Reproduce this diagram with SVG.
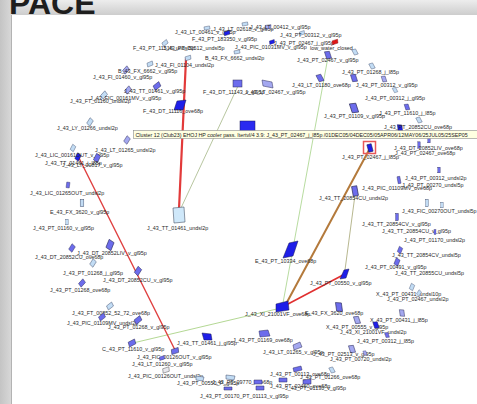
<svg xmlns="http://www.w3.org/2000/svg" xmlns:xlink="http://www.w3.org/1999/xlink" width="477" height="404" viewBox="0 0 477 404">
<style>
.t{font-family:"Liberation Sans",Arial,sans-serif;font-size:5.4px;fill:#2a2a2a}
.tt{font-family:"Liberation Sans",Arial,sans-serif;font-size:5.3px;fill:#222}
.a{fill:#6c6cec;stroke:#2c2c5a;stroke-width:0.5}
.b{fill:#1e1ee8;stroke:#1a1a50;stroke-width:0.5}
.c{fill:#c2dcf4;stroke:#3c4a6a;stroke-width:0.5}
.d{fill:#a4a8f0;stroke:#2c2c5a;stroke-width:0.5}
.w{fill:#e8e8ee;stroke:#555;stroke-width:0.5}
.e{fill:none;stroke-linecap:round}
</style>
<defs>
<linearGradient id="gt" x1="0" y1="0" x2="0" y2="1"><stop offset="0" stop-color="#ededed"/><stop offset="1" stop-color="#cdcdcd"/></linearGradient>
<linearGradient id="gl" x1="0" y1="0" x2="1" y2="0"><stop offset="0" stop-color="#c4c4c4"/><stop offset="1" stop-color="#d9d9d9"/></linearGradient>
<polygon id="q" points="-1.5,-4.5 3,-2.5 1.5,4.5 -3,2.5"/>
<rect id="r" x="-2" y="-3.5" width="4" height="7"/>
</defs>
<!-- frame -->
<rect x="0" y="0" width="477" height="404" fill="#dadada"/>
<rect x="0" y="0" width="477" height="15" fill="url(#gt)"/>
<rect x="0" y="0" width="12" height="404" fill="url(#gl)"/>
<rect x="12" y="15" width="465" height="389" fill="#ffffff"/>
<line x1="11.5" y1="15" x2="11.5" y2="404" stroke="#a9a9a9" stroke-width="0.8"/>
<text x="9" y="13.5" font-family="Liberation Sans,Arial,sans-serif" font-size="32" font-weight="bold" fill="#1e1e1e">PACE</text>

<g id="connectors">
<line class="e" x1="238" y1="86" x2="181" y2="208" stroke="#b8c6a0" stroke-width="1"/>
<line class="e" x1="328" y1="57" x2="283" y2="303" stroke="#b8dca0" stroke-width="1"/>
<line class="e" x1="355" y1="195" x2="345" y2="270" stroke="#b8b890" stroke-width="1"/>
<line class="e" x1="133" y1="343" x2="281" y2="308" stroke="#b4d894" stroke-width="1"/>
<line class="e" x1="186" y1="59" x2="179" y2="209" stroke="#e23a3a" stroke-width="2.2"/>
<line class="e" x1="79" y1="158" x2="175" y2="350" stroke="#e04040" stroke-width="1.4"/>
<line class="e" x1="288" y1="304" x2="343" y2="275" stroke="#e03030" stroke-width="1.6"/>
<line class="e" x1="369" y1="150" x2="286" y2="304" stroke="#b47a3c" stroke-width="2"/>
</g>

<!-- top region -->
<g id="n01"><use href="#q" class="c" transform="translate(165 43) rotate(40) scale(0.8)"/><text class="t" x="133" y="50">F_43_PT_11516_undsl5p</text><text class="t" x="163" y="50">J_43_PT_00512_undsl5p</text></g>
<g id="n02"><use href="#r" class="c" transform="translate(207 28) rotate(80) scale(0.8)"/><text class="t" x="175" y="34">J_43_LT_00461_v_gl95p</text></g>
<g id="n03"><use href="#q" class="b" transform="translate(227 33) rotate(60) scale(0.8)"/><text class="t" x="213" y="31">J_43_LT_02618_v_gl95p</text><text class="t" x="192" y="41">F_43_PT_183350_v_gl95p</text></g>
<g id="n04"><use href="#r" class="c" transform="translate(245 24) rotate(80) scale(0.8)"/></g>
<g id="n05"><use href="#q" class="d" transform="translate(268 27) rotate(70) scale(0.8)"/><text class="t" x="250" y="29">J_43_LT_00412_v_gl95p</text></g>
<g id="n06"><use href="#q" class="c" transform="translate(302 33) rotate(60) scale(0.7)"/><text class="t" x="280" y="37">J_43_PT_00312_v_gl95p</text></g>
<g id="n07"><use href="#q" class="b" transform="translate(272 42) rotate(60) scale(0.7)"/><text class="t" x="274" y="45">J_43_PT_02467_j_gl95p</text></g>
<g id="n08"><use href="#q" transform="translate(335 42) rotate(60) scale(0.8)" fill="#e01818" stroke="#801010" stroke-width="0.5"/><text class="t" x="310" y="50">low_water_closed</text></g>
<g id="n09"><use href="#r" class="c" transform="translate(237 52) rotate(80) scale(0.8)"/><text class="t" x="235" y="49">J_43_PIC_01031MV_v_gl95p</text><text class="t" x="205" y="60">B_43_FX_6662_undsl2p</text></g>
<g id="n10"><use href="#q" class="c" transform="translate(188 58) rotate(60) scale(0.8)"/><text class="t" x="155" y="67">J_43_FI_01104_undsl2p</text></g>
<g id="n11"><use href="#q" class="c" transform="translate(150 64) rotate(55) scale(0.8)"/></g>
<g id="n12"><use href="#q" class="d" transform="translate(126 70) rotate(30) scale(0.9)"/><text class="t" x="118" y="73">B_43_FX_6662_v_gl95p</text><text class="t" x="93" y="79">J_43_FI_01460_v_gl95p</text></g>
<g id="n13"><use href="#q" class="a" transform="translate(328 55) rotate(-30) scale(1)"/><text class="t" x="297" y="62">J_43_PT_02467_v_gl95p</text></g>
<g id="n14"><use href="#q" class="c" transform="translate(355 52) rotate(-40) scale(0.8)"/></g>
<g id="n15"><use href="#q" class="c" transform="translate(372 66) rotate(-40) scale(0.8)"/><text class="t" x="342" y="74">J_43_PT_01268_j_l85p</text></g>
<g id="n16"><use href="#q" class="d" transform="translate(384 79) rotate(-30) scale(0.8)"/></g>
<g id="n17"><use href="#q" class="a" transform="translate(354 78) rotate(-30) scale(1)"/><text class="t" x="356" y="87">J_43_PT_00312_v_gl95p</text></g>
<g id="n18"><use href="#q" class="a" transform="translate(320 78) rotate(-40) scale(1)"/><text class="t" x="292" y="87">J_43_LT_01180_ove68p</text></g>
<g id="n19"><use href="#q" class="c" transform="translate(395 90) rotate(-40) scale(0.7)"/><text class="t" x="365" y="100">J_43_PT_00312_j_gl95p</text></g>
<g id="n20"><use href="#q" class="a" transform="translate(354 108) rotate(-30) scale(1.3)"/><text class="t" x="324" y="118">J_43_PT_01109_v_gl95p</text></g>
<g id="n21"><use href="#q" class="a" transform="translate(407 107) rotate(-30) scale(0.8)"/><text class="t" x="379" y="115">J_43_PT_11610_j_l85p</text></g>
<g id="n22"><use href="#q" class="c" transform="translate(419 120) rotate(-40) scale(0.8)"/></g>
<g id="n23"><use href="#q" class="b" transform="translate(400 128) rotate(-20) scale(0.9)"/><text class="t" x="384" y="129">J_43_PT_20852CU_ove68p</text></g>

<!-- upper left -->
<g id="n24"><use href="#q" class="a" transform="translate(157 86) rotate(40) scale(1)"/><text class="t" x="203" y="94">F_43_DT_11143_v_gl95p</text></g>
<g id="n25"><use href="#q" class="d" transform="translate(128 90) rotate(30) scale(0.9)"/><text class="t" x="124" y="93">J_43_TT_01461_v_gl95p</text></g>
<g id="n26"><use href="#q" class="c" transform="translate(104 95) rotate(30) scale(0.9)"/><text class="t" x="90" y="100">J_43_FIC_00161MV_v_gl95p</text><text class="t" x="70" y="103">J_43_FT_01160_undsl2p</text></g>
<g id="n27"><polygon points="177,101 186,100 183,110 174,110" class="b"/><text class="t" x="143" y="113">F_43_DT_11116_ove68p</text></g>
<g id="n28"><use href="#q" class="c" transform="translate(90 122) rotate(20) scale(0.9)"/><text class="t" x="57" y="130">J_43_LY_01266_undsl2p</text></g>
<g id="n29"><rect x="233" y="80" width="9" height="7" class="a"/></g>
<g id="n30"><polygon points="262,80 272,82 273,88 263,86" class="d"/><text class="t" x="245" y="94">J_43_LT_02467_v_gl95p</text></g>
<g id="n31"><rect x="240" y="121" width="15" height="13" fill="#2a2af0" stroke="#1a1a60" stroke-width="0.5"/></g>

<!-- left middle -->
<g id="n32"><use href="#q" class="d" transform="translate(127 140) rotate(20) scale(0.9)"/></g>
<g id="n33"><use href="#q" class="c" transform="translate(73 148) rotate(15) scale(0.8)"/><text class="t" x="95" y="152">J_43_LT_01265_undsl2p</text></g>
<g id="n34"><use href="#q" class="b" transform="translate(78 157) rotate(15) scale(0.9)"/><text class="t" x="35" y="157">J_43_LIC_00161OUT_v_gl95p</text></g>
<g id="n35"><use href="#q" class="a" transform="translate(97 158) rotate(15) scale(1)"/><text class="t" x="45" y="165">J_43_TT_01461_j_l85p</text><text class="t" x="62" y="167">J_43_LT_00817_v_gl95p</text></g>
<g id="n36"><use href="#r" class="a" transform="translate(68 185) rotate(8) scale(0.8)"/><text class="t" x="30" y="195">J_43_LIC_01265OUT_undsl2p</text></g>
<g id="n37"><use href="#r" class="c" transform="translate(82 203) scale(0.9 1)"/><text class="t" x="50" y="214">E_43_FX_3620_v_gl95p</text></g>
<g id="n38"><use href="#r" class="c" transform="translate(67 222) scale(0.6 0.8)"/><text class="t" x="33" y="230">J_43_PT_01160_v_gl95p</text></g>
<g id="n39"><polygon points="173,208 184,207 185,222 174,223" fill="#cfe8fa" stroke="#4a5568" stroke-width="0.6"/><text class="t" x="147" y="230">J_43_TT_01461_undsl2p</text></g>
<g id="n40"><use href="#q" class="a" transform="translate(110 245) rotate(10) scale(1.2)"/><text class="t" x="77" y="255">J_43_DT_20852LIV_v_gl95p</text></g>
<g id="n41"><use href="#q" class="a" transform="translate(72 248) rotate(20) scale(0.9)"/><text class="t" x="35" y="259">J_43_DT_20852CU_ove68p</text></g>
<g id="n42"><use href="#q" class="c" transform="translate(93 263) rotate(20) scale(0.9)"/></g>
<g id="n43"><use href="#q" class="a" transform="translate(138 271) rotate(20) scale(1)"/><text class="t" x="63" y="275">J_43_PT_01268_j_gl95p</text><text class="t" x="103" y="282">J_43_DT_20852CU_v_gl95p</text></g>
<g id="n44"><use href="#q" class="a" transform="translate(82 283) rotate(30) scale(0.9)"/><text class="t" x="50" y="292">J_43_PT_01268_ove68p</text></g>
<g id="n45"><use href="#q" class="c" transform="translate(110 306) rotate(40) scale(0.9)"/><text class="t" x="72" y="315">J_43_FT_00852_52_72_ove68p</text></g>
<g id="n46"><use href="#q" class="a" transform="translate(102 317) rotate(40) scale(0.9)"/><text class="t" x="67" y="325">J_43_PIC_01109MV_undsl2p</text></g>
<g id="n47"><use href="#q" class="a" transform="translate(138 320) rotate(40) scale(1)"/><text class="t" x="108" y="329">J_43_PT_01268_v_gl95p</text></g>
<g id="n48"><use href="#q" class="a" transform="translate(132 343) rotate(50) scale(1)"/><text class="t" x="102" y="351">C_43_PT_11610_v_gl95p</text></g>
<g id="n49"><use href="#q" class="a" transform="translate(175 351) rotate(60) scale(1)"/><text class="t" x="137" y="359">J_43_FIC_00126OUT_v_gl95p</text></g>
<g id="n50"><use href="#q" class="a" transform="translate(162 358) rotate(60) scale(0.7)"/><text class="t" x="132" y="366">J_43_LT_01260_v_gl95p</text></g>
<g id="n51"><use href="#q" class="w" transform="translate(166 370) rotate(60) scale(0.9)"/><text class="t" x="128" y="378">J_43_PIC_00126OUT_undsl2p</text></g>

<!-- center -->
<g id="n52"><polygon points="289,243 298,241 293,256 283,258" class="b"/><text class="t" x="255" y="263">E_43_PT_10334_ove68p</text></g>
<g id="n53"><polygon points="276,304 288,301 289,310 276,312" class="b"/><text class="t" x="245" y="316">J_43_XI_21001VF_ove68p</text></g>
<g id="n54"><polygon points="202,333 211,334 212,340 204,340" class="b"/><text class="t" x="177" y="345">J_43_TT_01461_j_gl95p</text></g>
<g id="n55"><polygon points="259,331 268,330 270,336 260,337" class="a"/><text class="t" x="233" y="342">J_43_PT_01169_ove68p</text></g>
<g id="n56"><polygon points="293,345 300,342 302,347 294,350" class="d"/><text class="t" x="263" y="354">J_43_LT_01265_v_gl95p</text></g>
<g id="n57"><polygon points="196,376 204,377 203,381 196,380" class="c"/><text class="t" x="177" y="385">J_43_PT_00550_P_gl95p</text></g>
<g id="n58"><polygon points="226,375 235,376 234,380 226,379" class="c"/><text class="t" x="212" y="384">J_43_PT_09770_ove68p</text></g>
<g id="n59"><polygon points="224,387 232,387 232,390 224,390" class="a"/><text class="t" x="200" y="398">J_43_PT_00170_PT_01113_v_gl95p</text></g>
<g id="n60"><polygon points="254,380 262,380 262,384 254,384" class="a"/></g>
<g id="n61"><polygon points="256,386 264,386 264,390 256,390" class="a"/></g>
<g id="n62"><polygon points="293,368 301,366 302,370 294,372" class="a"/><text class="t" x="270" y="376">J_43_PT_00113_ove68p</text></g>
<g id="n63"><polygon points="279,378 287,378 287,382 279,382" class="a"/><text class="t" x="270" y="388">J_43_PT_02460_ove68p</text></g>
<g id="n64"><polygon points="303,380 311,379 311,384 303,384" class="a"/><text class="t" x="285" y="390">J_43_PT_01130_v_gl95p</text></g>

<!-- right -->
<g id="n65"><use href="#r" class="b" transform="translate(370 148) rotate(-15) scale(1.1)"/><rect x="363.5" y="141.5" width="12" height="12" fill="none" stroke="#e85858" stroke-width="1.5"/><text class="t" x="342" y="159">J_43_PT_02467_j_l85p</text></g>
<g id="n66"><use href="#r" class="a" transform="translate(419 145) scale(0.6 0.9)"/><text class="t" x="394" y="150">J_43_DT_20852LIV_ove68p</text></g>
<g id="n67"><use href="#r" class="a" transform="translate(429 140) scale(0.6 0.8)"/><text class="t" x="395" y="155">J_43_PT_02467_ove68p</text></g>
<g id="n68"><use href="#r" class="a" transform="translate(439 170) scale(0.6 0.8)"/><text class="t" x="405" y="180">J_43_PT_00312_undsl2p</text></g>
<g id="n69"><use href="#r" class="a" transform="translate(399 180) rotate(-10) scale(0.7 1)"/><text class="t" x="402" y="187">J_43_PT_00270_undsl5p</text></g>
<g id="n70"><use href="#r" class="a" transform="translate(355 191) rotate(-10) scale(1.3 1.4)"/><text class="t" x="362" y="190">J_43_PIC_01109MV_ove68p</text><text class="t" x="319" y="200">J_43_TT_20854CU_undsl2p</text></g>
<g id="n71"><use href="#r" class="c" transform="translate(427 203) scale(0.7 1)"/></g>
<g id="n72"><use href="#r" class="c" transform="translate(442 205) scale(0.6 0.8)"/><text class="t" x="402" y="213">J_43_FIC_00270OUT_undsl5p</text></g>
<g id="n73"><use href="#r" class="a" transform="translate(397 217) scale(0.7 1)"/><text class="t" x="362" y="226">J_43_TT_20854CV_v_gl95p</text><text class="t" x="382" y="233">J_43_TT_20854CU_v_gl95p</text></g>
<g id="n74"><use href="#r" class="a" transform="translate(435 232) scale(0.5 0.7)"/><text class="t" x="404" y="242">J_43_PT_01170_undsl2p</text></g>
<g id="n75"><use href="#q" class="a" transform="translate(400 250) rotate(10) scale(0.8)"/><text class="t" x="392" y="257">J_43_TT_20854CV_undsl5p</text></g>
<g id="n76"><use href="#q" class="a" transform="translate(397 262) rotate(10) scale(0.9)"/><text class="t" x="365" y="269">J_43_PT_00491_v_gl95p</text></g>
<g id="n77"><polygon points="344,270 349,269 346,278 340,279" class="b"/><text class="t" x="310" y="285">J_43_PT_00550_v_gl95p</text><text class="t" x="395" y="275">J_43_TT_20855CU_undsl5p</text></g>
<g id="n78"><use href="#q" class="c" transform="translate(412 287) rotate(10) scale(0.8)"/><text class="t" x="376" y="296">X_43_PT_00431_undsl10p</text></g>
<g id="n79"><use href="#q" class="c" transform="translate(419 293) rotate(20) scale(0.7)"/><text class="t" x="387" y="301">J_43_PT_02467_undsl2p</text></g>
<g id="n80"><use href="#q" class="a" transform="translate(339 307) rotate(-20) scale(1.2)"/><text class="t" x="305" y="315">E_43_FX_3620_ove68p</text></g>
<g id="n81"><use href="#q" class="d" transform="translate(357 320) rotate(-30) scale(1)"/><text class="t" x="326" y="329">X_43_PT_00555_v_gl95p</text></g>
<g id="n82"><use href="#q" class="d" transform="translate(402 313) rotate(-20) scale(0.9)"/><text class="t" x="370" y="322">X_43_PT_00431_j_l85p</text></g>
<g id="n83"><use href="#q" class="b" transform="translate(376 325) rotate(-30) scale(0.9)"/><text class="t" x="340" y="334">J_43_XI_21001VF_undsl2p</text></g>
<g id="n84"><use href="#q" class="a" transform="translate(387 335) rotate(-30) scale(0.7)"/><text class="t" x="357" y="343">J_43_PT_00312_j_l85p</text></g>
<g id="n85"><use href="#q" class="d" transform="translate(352 349) rotate(-30) scale(1)"/><text class="t" x="313" y="356">J_43_PT_02513_v_gl95p</text></g>
<g id="n86"><use href="#q" class="d" transform="translate(365 353) rotate(-30) scale(0.6)"/><text class="t" x="330" y="361">J_43_PT_00720_undsl2p</text></g>
<g id="n87"><use href="#q" class="c" transform="translate(332 370) rotate(-40) scale(0.8)"/><text class="t" x="300" y="379">J_43_PT_01266_ove68p</text></g>

<!-- tooltip -->
<g id="tooltip">
<rect x="133.5" y="130.5" width="350" height="8" fill="#ffffe1" stroke="#8a8a8a" stroke-width="0.6"/>
<text class="tt" x="135.5" y="136.6">Cluster 12 (Club23) EHOJ HP cooler pass. Itertvl/4 3.9: J_43_PT_02467_j_l85p /01DEC05/04DEC05/05APR06/12MAY06/25JUL05/25SEP05</text>
</g>
</svg>
